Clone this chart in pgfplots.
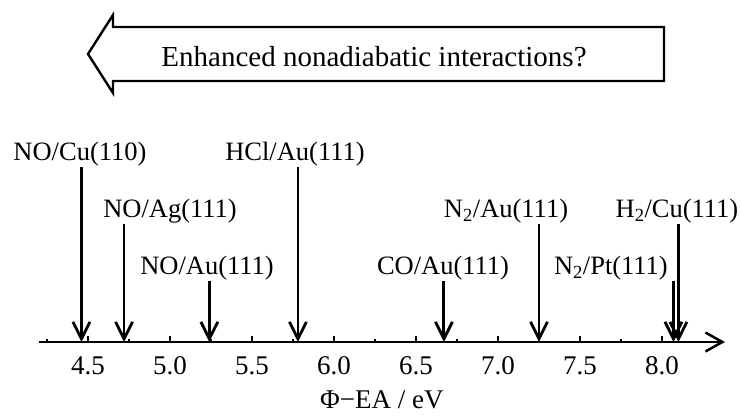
\documentclass[border=0pt]{standalone}
\usepackage{fontspec}
\setmainfont{Liberation Serif}
\usepackage{pgfplots}
\pgfplotsset{compat=1.18}
\usetikzlibrary{arrows.meta}
\begin{document}
\begin{tikzpicture}[
  lab/.style={font=\fontsize{26.5bp}{32bp}\selectfont, inner sep=0pt},
  varr/.style={line width=2.8bp, black, -{Straight Barb[length=17bp,width=17bp]}},
]
\begin{axis}[
  scale only axis, width=686.2bp, height=327bp,
  xmin=4.2, xmax=8.384, ymin=0, ymax=327,
  axis x line=bottom, axis y line=none,
  x axis line style={line width=2.5bp, -{Straight Barb[length=17bp,width=19bp]}},
  xtick={4.5,5,5.5,6,6.5,7,7.5,8},
  minor xtick={4.25,4.75,5.25,5.75,6.25,6.75,7.25,7.75},
  tick align=inside,
  major tick length=5.5bp, minor tick length=3.2bp,
  major tick style={line width=2bp, black},
  minor tick style={line width=2bp, black},
  xticklabel style={font=\fontsize{27bp}{32bp}\selectfont, anchor=base, yshift=-33bp,
    /pgf/number format/.cd, fixed, fixed zerofill, precision=1, assume math mode=true},
  xlabel={Φ−EA / eV},
  xlabel style={font=\fontsize{27bp}{32bp}\selectfont, at={(axis description cs:0.5,0)}, anchor=base, yshift=-67bp},
  clip=false,
]
% big arrow
\draw[line width=2.4bp, fill=white] (axis cs:4.5,288) -- (axis cs:4.6524,327) -- (axis cs:4.6524,315) -- (axis cs:8.0122,315) -- (axis cs:8.0122,261) -- (axis cs:4.6524,261) -- (axis cs:4.6524,249) -- cycle;
\node[anchor=base, inner sep=0pt, font=\fontsize{29bp}{34bp}\selectfont] at (axis cs:6.244,275) {Enhanced nonadiabatic interactions?};

% arrows
\addplot[varr] coordinates {(4.46,175) (4.46,0)};
\addplot[varr] coordinates {(4.72,118) (4.72,0)};
\addplot[varr] coordinates {(5.24,61) (5.24,0)};
\addplot[varr] coordinates {(5.78,175) (5.78,0)};
\addplot[varr] coordinates {(6.67,61) (6.67,0)};
\addplot[varr] coordinates {(7.25,118) (7.25,0)};
\addplot[varr] coordinates {(8.07,61) (8.07,0)};
\addplot[varr] coordinates {(8.10,118) (8.10,0)};

% labels
\node[lab, anchor=base] at (axis cs:4.451,181) {NO/Cu(110)};
\node[lab, anchor=base] at (axis cs:5.0,124) {NO/Ag(111)};
\node[lab, anchor=base] at (axis cs:5.2256,67) {NO/Au(111)};
\node[lab, anchor=base] at (axis cs:5.762,181) {HCl/Au(111)};
\node[lab, anchor=base] at (axis cs:6.665,67) {CO/Au(111)};
\node[lab, anchor=base] at (axis cs:7.049,124) {N\textsubscript{2}/Au(111)};
\node[lab, anchor=base east] at (axis cs:8.0366,67) {N\textsubscript{2}/Pt(111)};
\node[lab, anchor=base] at (axis cs:8.091,124) {H\textsubscript{2}/Cu(111)};

\coordinate (bl) at (axis cs:3.9634,-74);
\coordinate (tr) at (axis cs:8.4817,342);
\end{axis}
\pgfresetboundingbox
\useasboundingbox (bl) rectangle (tr);
\end{tikzpicture}
\end{document}
